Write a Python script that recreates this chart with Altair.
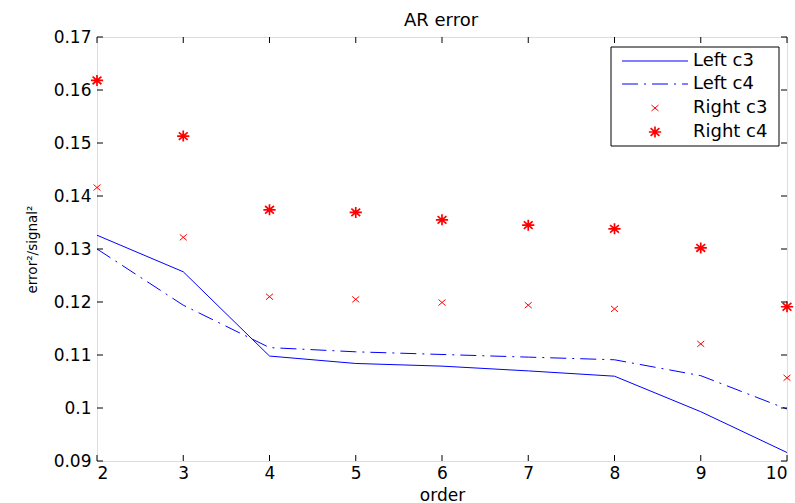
import altair as alt
import pandas as pd

# ---- data ----
order = [2, 3, 4, 5, 6, 7, 8, 9, 10]
left_c3 = [0.1326, 0.1257, 0.1098, 0.1084, 0.1079, 0.1070, 0.1060, 0.0993, 0.0916]
left_c4 = [0.1300, 0.1194, 0.1114, 0.1106, 0.1101, 0.1096, 0.1091, 0.1061, 0.0998]
right_c3 = [0.1416, 0.1322, 0.1210, 0.1205, 0.1199, 0.1194, 0.1187, 0.1121, 0.1057]
right_c4 = [0.1618, 0.1513, 0.1374, 0.1369, 0.1355, 0.1345, 0.1338, 0.1302, 0.1191]

x_ticks = [2, 3, 4, 5, 6, 7, 8, 9, 10]
y_ticks = [0.09, 0.10, 0.11, 0.12, 0.13, 0.14, 0.15, 0.16, 0.17]
legend_labels = ["Left c3", "Left c4", "Right c3", "Right c4"]
chart_title = ["AR error"]

FONT = "DejaVu Sans"
BLUE = "#0000FF"
RED = "#FF0000"
X_PATH = "M-1,-0.85L1,0.85M-1,0.85L1,-0.85"
STAR_PATH = "M-1,0L1,0M0,-0.9L0,0.9M-0.72,-0.62L0.72,0.62M-0.72,0.62L0.72,-0.62"
DASHDOT = [16, 6, 2, 6]

W, H = 690, 424

df_l3 = pd.DataFrame({"order": order, "value": left_c3})
df_l4 = pd.DataFrame({"order": order, "value": left_c4})
df_r3 = pd.DataFrame({"order": order, "value": right_c3})
df_r4 = pd.DataFrame({"order": order, "value": right_c4})

xscale = alt.Scale(domain=[2, 10], nice=False, zero=False)
yscale = alt.Scale(domain=[0.09, 0.17], nice=False, zero=False)

xenc = alt.X(
    "order:Q",
    scale=xscale,
    axis=alt.Axis(
        title="order", values=x_ticks, format="d", ticks=False, grid=False,
        domain=False, labelFont=FONT, labelFontSize=17, labelColor="black",
        labelPadding=4, titleFont=FONT, titleFontSize=17, titleFontWeight="normal",
        titleColor="black", titlePadding=6,
    ),
)
yenc = alt.Y(
    "value:Q",
    scale=yscale,
    axis=alt.Axis(
        title="error²/signal²", values=y_ticks, labelExpr="format(datum.value, '.2~f')",
        ticks=False, grid=False, domain=False, labelFont=FONT, labelFontSize=17,
        labelColor="black", labelPadding=6, titleFont=FONT, titleFontSize=13.5,
        titleFontWeight="normal", titleColor="black", titlePadding=14,
    ),
)

line_l3 = alt.Chart(df_l3).mark_line(color=BLUE, strokeWidth=1).encode(x=xenc, y=yenc)
line_l4 = alt.Chart(df_l4).mark_line(color=BLUE, strokeWidth=1, strokeDash=DASHDOT).encode(
    x="order:Q", y="value:Q")
pts_r3 = alt.Chart(df_r3).mark_point(
    shape=X_PATH, size=49, color=RED, filled=False, strokeWidth=1, opacity=1
).encode(x="order:Q", y="value:Q")
pts_r4 = alt.Chart(df_r4).mark_point(
    shape=STAR_PATH, size=150, color=RED, filled=False, strokeWidth=1.7, opacity=1
).encode(x="order:Q", y="value:Q")

# inward ticks on all four sides
df_xt = pd.DataFrame({"t": x_ticks})
df_yt = pd.DataFrame({"t": y_ticks})
tick_b = alt.Chart(df_xt).mark_rule(color="black", strokeWidth=1).encode(
    x=alt.X("t:Q"), y=alt.value(H - 6), y2=alt.value(H))
tick_t = alt.Chart(df_xt).mark_rule(color="black", strokeWidth=1).encode(
    x=alt.X("t:Q"), y=alt.value(0), y2=alt.value(6))
tick_l = alt.Chart(df_yt).mark_rule(color="black", strokeWidth=1).encode(
    y=alt.Y("t:Q"), x=alt.value(0), x2=alt.value(6))
tick_r = alt.Chart(df_yt).mark_rule(color="black", strokeWidth=1).encode(
    y=alt.Y("t:Q"), x=alt.value(W - 6), x2=alt.value(W))

# chart title (MATLAB style, centred above the axes box)
title_mark = alt.Chart(pd.DataFrame({"label": chart_title})).mark_text(
    font=FONT, fontSize=18, align="center", baseline="alphabetic", color="black"
).encode(text="label:N", x=alt.value(W / 2 - 1), y=alt.value(-11))

# legend box (drawn inside the plot, MATLAB style)
one = pd.DataFrame({"k": [0]})
lx0, lx1, ly0, ly1 = 514, 682, 10, 109
row_y = [24, 47, 71, 95]
sym_x0, sym_x1, sym_xc, lab_x = 525, 591, 558, 596

leg_box = alt.Chart(one).mark_rect(fill="white", stroke="black", strokeWidth=1).encode(
    x=alt.value(lx0), x2=alt.value(lx1), y=alt.value(ly0), y2=alt.value(ly1))
leg_l3 = alt.Chart(one).mark_rule(color=BLUE, strokeWidth=1).encode(
    x=alt.value(sym_x0), x2=alt.value(sym_x1), y=alt.value(row_y[0]))
leg_l4 = alt.Chart(one).mark_rule(color=BLUE, strokeWidth=1, strokeDash=DASHDOT).encode(
    x=alt.value(sym_x0), x2=alt.value(sym_x1), y=alt.value(row_y[1]))
leg_r3 = alt.Chart(one).mark_point(shape=X_PATH, size=49, color=RED, filled=False,
                                   strokeWidth=1, opacity=1).encode(
    x=alt.value(sym_xc), y=alt.value(row_y[2]))
leg_r4 = alt.Chart(one).mark_point(shape=STAR_PATH, size=150, color=RED, filled=False,
                                   strokeWidth=1.7, opacity=1).encode(
    x=alt.value(sym_xc), y=alt.value(row_y[3]))
leg_texts = [
    alt.Chart(pd.DataFrame({"label": [lab]})).mark_text(
        font=FONT, fontSize=18, align="left", baseline="middle", color="black"
    ).encode(text="label:N", x=alt.value(lab_x), y=alt.value(ry))
    for lab, ry in zip(legend_labels, row_y)
]

chart = alt.layer(
    line_l3, line_l4, pts_r3, pts_r4,
    tick_b, tick_t, tick_l, tick_r, title_mark,
    leg_box, leg_l3, leg_l4, leg_r3, leg_r4, *leg_texts,
).properties(
    width=W, height=H,
    padding={"left": 97, "top": 37, "right": 8, "bottom": 42},
    autosize=alt.AutoSizeParams(type="none"),
).configure_view(stroke="black", strokeWidth=1.2).configure(background="white")

chart.save("out.html", embed_options={"renderer": "svg", "actions": False})
